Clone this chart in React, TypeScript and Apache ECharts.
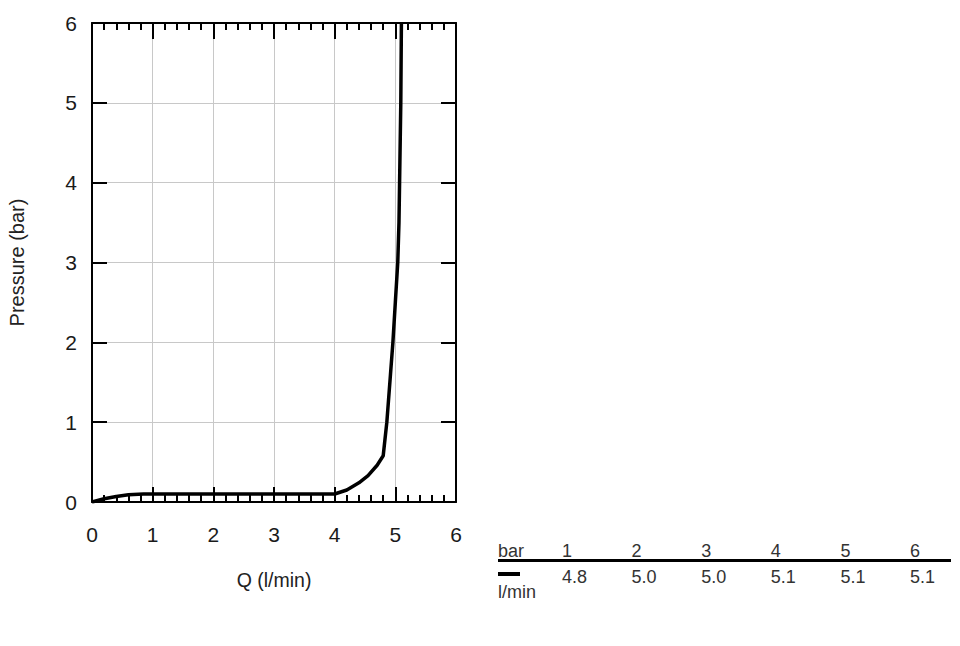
import React, { useEffect, useRef } from "react";
import * as echarts from "echarts";

// Flow curve: flow (l/min) vs pressure (bar)
const flowQ: number[] = [0, 0.2, 0.4, 0.6, 0.85, 1, 2, 3, 4, 4.2, 4.4, 4.55, 4.7, 4.8, 4.86, 4.92, 4.96, 5.0, 5.04, 5.06, 5.07, 5.08, 5.09, 5.1];
const pressure: number[] = [0, 0.04, 0.07, 0.09, 0.1, 0.1, 0.1, 0.1, 0.1, 0.15, 0.24, 0.33, 0.46, 0.58, 1.0, 1.6, 2.0, 2.5, 3.0, 3.5, 4.0, 4.5, 5.0, 6.0];

// Table under the chart
const tableBar: string[] = ["1", "2", "3", "4", "5", "6"];
const tableFlow: string[] = ["4.8", "5.0", "5.0", "5.1", "5.1", "5.1"];

const FONT = "Liberation Sans, Arial, sans-serif";

const App: React.FC = () => {
  const chartRef = useRef<HTMLDivElement | null>(null);

  useEffect(() => {
    if (!chartRef.current) return;
    const chart = echarts.init(chartRef.current, undefined, { renderer: "svg" });

    const axisLine = { show: true, onZero: false, lineStyle: { color: "#000", width: 2 } };
    const majorTick = { show: true, inside: true, length: 15, lineStyle: { color: "#000", width: 2 } };
    const minorTick = { show: true, splitNumber: 5, length: 7, lineStyle: { color: "#000", width: 2 } };
    const grid = { show: true, lineStyle: { color: "#c8c8c8", width: 1 } };
    const label = { fontSize: 21, color: "#1a1a1a", fontFamily: FONT };

    // table texts
    const colX = (i: number) => 562 + i * 69.6;
    const tStyle = { fontSize: 18, fill: "#333", fontFamily: FONT };
    const tableGraphics: any[] = [
      { type: "text", left: 498, top: 542, style: { text: "bar", ...tStyle } },
      { type: "line", shape: { x1: 498, y1: 560.5, x2: 951, y2: 560.5 }, style: { stroke: "#000", lineWidth: 3 } },
      { type: "line", shape: { x1: 498, y1: 574, x2: 520, y2: 574 }, style: { stroke: "#000", lineWidth: 4 } },
      { type: "text", left: 498, top: 583, style: { text: "l/min", ...tStyle } },
    ];
    tableBar.forEach((t, i) => {
      tableGraphics.push({ type: "text", left: colX(i), top: 542, style: { text: t, ...tStyle } });
    });
    tableFlow.forEach((t, i) => {
      tableGraphics.push({ type: "text", left: colX(i), top: 567.5, style: { text: t, ...tStyle } });
    });

    const option: echarts.EChartsOption = {
      animation: false,
      backgroundColor: "#fff",
      grid: { left: 92, top: 23, width: 364, height: 479 },
      xAxis: [
        {
          type: "value",
          position: "bottom",
          min: 0,
          max: 6,
          interval: 1,
          axisLine,
          axisTick: majorTick,
          minorTick,
          splitLine: grid,
          axisLabel: { ...label, margin: 22 },
          name: "Q (l/min)",
          nameLocation: "middle",
          nameGap: 68,
          nameTextStyle: { fontSize: 19.5, color: "#222", fontFamily: FONT },
        },
        {
          type: "value",
          position: "top",
          min: 0,
          max: 6,
          interval: 1,
          axisLine,
          axisTick: { ...majorTick, length: 16 },
          minorTick,
          splitLine: { show: false },
          axisLabel: { show: false },
        },
      ],
      yAxis: [
        {
          type: "value",
          position: "left",
          min: 0,
          max: 6,
          interval: 1,
          axisLine,
          axisTick: majorTick,
          splitLine: grid,
          axisLabel: { ...label, margin: 15 },
          name: "Pressure (bar)",
          nameLocation: "middle",
          nameGap: 65,
          nameTextStyle: { fontSize: 20, color: "#222", fontFamily: FONT },
        },
        {
          type: "value",
          position: "right",
          min: 0,
          max: 6,
          interval: 1,
          axisLine,
          axisTick: majorTick,
          splitLine: { show: false },
          axisLabel: { show: false },
        },
      ],
      graphic: tableGraphics,
      series: [
        {
          type: "line",
          xAxisIndex: 0,
          yAxisIndex: 0,
          data: flowQ.map((q, i) => [q, pressure[i]]),
          showSymbol: false,
          smooth: false,
          lineStyle: { color: "#000", width: 3.5 },
          z: 5,
        },
      ],
    };

    chart.setOption(option);
    return () => {
      chart.dispose();
    };
  }, []);

  return (
    <div
      ref={chartRef}
      style={{ position: "absolute", left: 0, top: 0, width: "960px", height: "646px" }}
    />
  );
};

export default App;
